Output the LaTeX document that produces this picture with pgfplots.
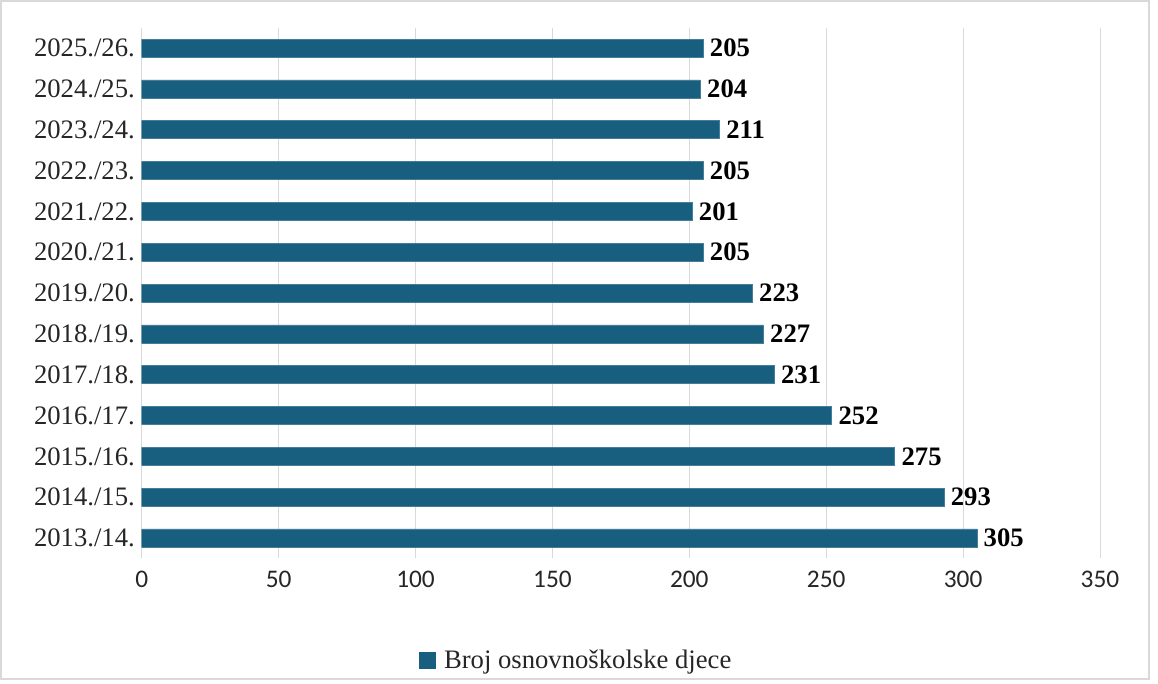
\documentclass[border=0pt]{standalone}
\usepackage{pgfplots}
\pgfplotsset{compat=1.18}
\usepackage{fontspec}
\setmainfont{Liberation Serif}
\newfontfamily\calib{Carlito}
\definecolor{barblue}{RGB}{24,94,126}
\definecolor{gridgray}{RGB}{217,217,217}
\definecolor{txt}{RGB}{38,38,38}
\begin{document}
\begin{tikzpicture}
\useasboundingbox (0,0) rectangle (868.5pt,512.25pt);
\draw[line width=1.5pt, color=gridgray] (0.75pt,3pt) rectangle (861.75pt,511.2pt);
\begin{axis}[
  at={(106.3pt,93.45pt)}, anchor=south west,
  scale only axis,
  width=718.7pt, height=398.1pt,
  xbar, bar width=13.5pt,
  xmin=0, xmax=350,
  ymin=-0.5, ymax=12.5,
  xtick={0,50,...,350},
  ytick={0,...,12},
  yticklabels={2013./14.,2014./15.,2015./16.,2016./17.,2017./18.,2018./19.,2019./20.,2020./21.,2021./22.,2022./23.,2023./24.,2024./25.,2025./26.},
  axis line style={draw=none},
  major tick length=0pt,
  xmajorgrids, grid style={gridgray, line width=0.75pt},
  /pgf/number format/assume math mode=true,
  xticklabel style={font=\calib\fontsize{19}{21}\selectfont, text=txt, inner sep=0pt, anchor=north, yshift=-9pt},
  yticklabel style={font=\fontsize{20}{23}\selectfont, text=txt, inner sep=0pt, anchor=east, xshift=-5pt},
  nodes near coords,
  nodes near coords style={font=\bfseries\fontsize{20}{23}\selectfont, text=black, anchor=west, inner sep=0pt, xshift=5pt},
  legend style={at={(0.454,-0.191)}, anchor=center, draw=none, fill=none,
    font=\fontsize{20}{23}\selectfont, text=txt,
    /tikz/every odd column/.append style={column sep=4pt}},
  legend image code/.code={\fill[barblue] (0pt,-6pt) rectangle (12pt,6pt);},
]
\addplot[fill=barblue, draw=barblue!80!white, line width=0.4pt] coordinates {
(305,0) (293,1) (275,2) (252,3) (231,4) (227,5) (223,6) (205,7) (201,8) (205,9) (211,10) (204,11) (205,12)
};
\addlegendentry{Broj osnovnoškolske djece}
\end{axis}
\end{tikzpicture}
\end{document}
